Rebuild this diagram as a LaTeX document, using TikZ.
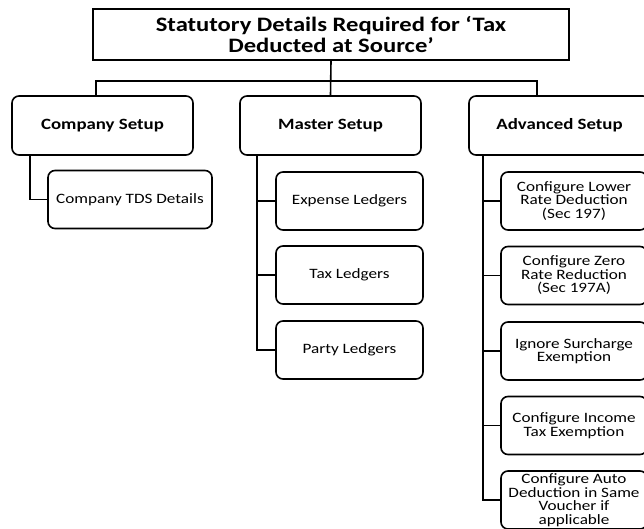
\documentclass[tikz,border=0pt]{standalone}
\usepackage{fontspec}
\setmainfont{Carlito}[FakeStretch=1.2]
\begin{document}
\begin{tikzpicture}[x=1pt, y=-1pt, line width=1.6pt,
  headbox/.style={draw, align=center, minimum width=181pt, minimum height=59pt,
    rounded corners=7pt, inner sep=2pt, font=\bfseries\fontsize{15.7}{18}\selectfont},
  leafbox/.style={draw, align=center, minimum height=58pt, rounded corners=7pt,
    inner sep=2pt, font=\fontsize{14.3}{13.5}\selectfont}]

\clip (0,0) rectangle (644,529);

% Title
\node[draw, align=center, minimum width=476pt, minimum height=51pt,
  font=\bfseries\fontsize{20.5}{21}\selectfont] (title) at (331,34.5)
  {Statutory Details Required for ‘Tax\\Deducted at Source’};

% Setup groups
\node[headbox] (company) at (102.5,125.5) {Company Setup};
\node[headbox] (master) at (330.5,125.5) {Master Setup};
\node[headbox] (advanced) at (559.5,125.5) {Advanced Setup};

% Bus below the title
\coordinate (busL) at (96,81);
\coordinate (busR) at (537,81);
\draw (title.south) -- (master.north);
\draw (busL |- company.north) -- (busL) -- (busR) -- (busR |- advanced.north);

% Company details
\node[leafbox, minimum width=164pt] (tds) at (130,199.5) {Company TDS Details};

% Master ledgers
\node[leafbox, minimum width=147pt] (expense) at (349.5,201) {Expense Ledgers};
\node[leafbox, minimum width=147pt] (taxled) at (349.5,275) {Tax Ledgers};
\node[leafbox, minimum width=147pt] (party) at (349.5,350) {Party Ledgers};

% Advanced options
\node[leafbox, minimum width=146pt] (lower) at (574,201) {Configure Lower\\Rate Deduction\\(Sec 197)};
\node[leafbox, minimum width=146pt] (zero) at (574,275.5) {Configure Zero\\Rate Reduction\\(Sec 197A)};
\node[leafbox, minimum width=146pt] (surcharge) at (574,351) {Ignore Surcharge\\Exemption};
\node[leafbox, minimum width=146pt] (income) at (574,425.5) {Configure Income\\Tax Exemption};
\node[leafbox, minimum width=146pt] (auto) at (574,500) {Configure Auto\\Deduction in Same\\Voucher if\\applicable};

% Stems to the children
\coordinate (cstem) at (30,0);
\coordinate (mstem) at (257,0);
\coordinate (astem) at (483,0);
\draw (cstem |- company.south) |- (tds.west);
\draw (mstem |- master.south) |- (party.west);
\foreach \n in {expense,taxled}
  \draw (mstem |- \n.west) -- (\n.west);
\draw (astem |- advanced.south) |- (auto.west);
\foreach \n in {lower,zero,surcharge,income}
  \draw (astem |- \n.west) -- (\n.west);

\end{tikzpicture}
\end{document}
